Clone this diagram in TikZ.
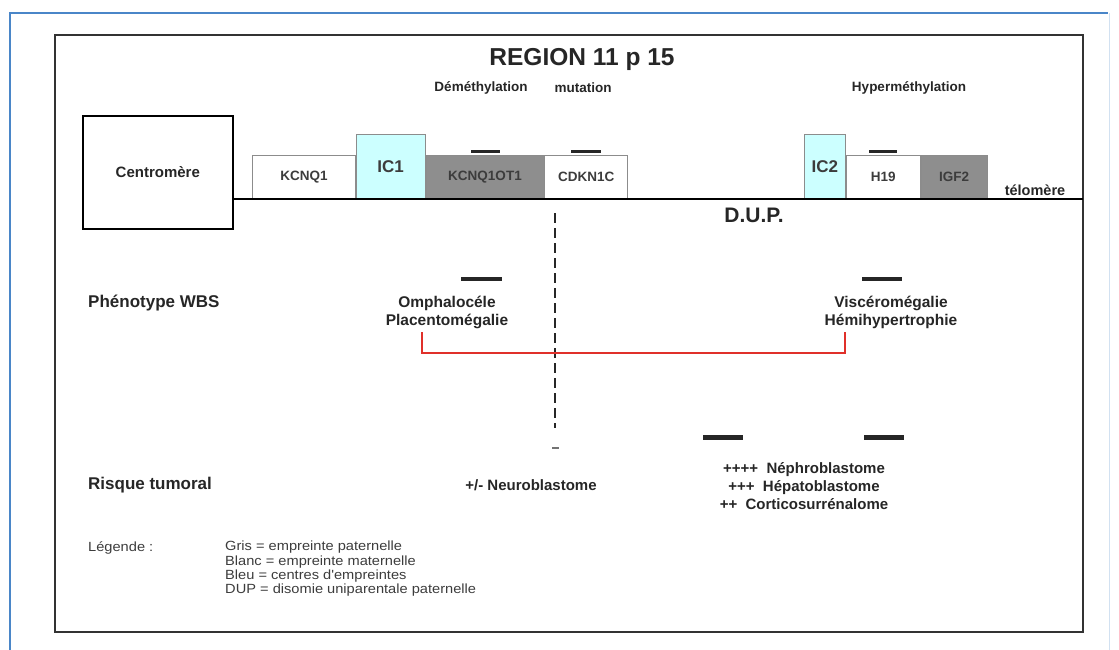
\documentclass[tikz,border=0pt]{standalone}
\usepackage{fontspec}
\setmainfont{Liberation Sans}
\newfontfamily\legfont[FakeStretch=1.1]{Liberation Sans}
\usetikzlibrary{positioning}
\definecolor{wbsblue}{HTML}{4A86C8}
\definecolor{wbscyan}{HTML}{CCFFFF}
\definecolor{wbsgrey}{HTML}{8E8E8E}
\definecolor{wbsred}{HTML}{E0302A}
\definecolor{wbsink}{HTML}{262626}
\tikzset{
  gene/.style={rectangle, draw=black!45, line width=0.8pt, fill=white, minimum height=43pt,
               inner sep=0pt, font=\fontsize{13.5}{15}\selectfont\bfseries, text=wbsink!90},
  genep/.style={gene, fill=wbsgrey},
  ic/.style={gene, fill=wbscyan, minimum height=64pt, font=\fontsize{17}{19}\selectfont\bfseries},
  mbar/.style={rectangle, fill=black!85, inner sep=0pt, minimum height=3pt},
  meth/.style={font=\fontsize{13.5}{15}\selectfont\bfseries, text=wbsink, inner sep=0pt},
  lbl/.style={font=\fontsize{15.5}{18}\selectfont\bfseries, text=wbsink, align=center, inner sep=0pt},
  rowlbl/.style={font=\fontsize{17}{19}\selectfont\bfseries, text=wbsink, anchor=west, inner sep=0pt},
  legtxt/.style={font=\legfont\fontsize{13.3}{14.3}\selectfont, text=wbsink!90, anchor=west, align=left, inner sep=0pt},
  redlink/.style={draw=wbsred, line width=2pt},
  chromo/.style={line width=2.6pt, draw=black},
}

\begin{document}
\begin{tikzpicture}[x=1pt, y=-1pt]
  \useasboundingbox (0,0) rectangle (1119,650);
  % frames
  \draw[wbsblue, line width=2pt] (10,660) -- (10,13) -- (1108,13);
  \draw[wbsblue!25, line width=1pt] (1109,13) -- (1109,660);
  \draw[black!80, line width=2pt] (55,35) rectangle (1083,632);

  \node[font=\fontsize{24.5}{26}\selectfont\bfseries, text=wbsink] (title) at (582,59) {REGION 11 p 15};

  % chromosome
  \node[draw, line width=1.6pt, minimum width=150pt, minimum height=113pt, anchor=north west,
        font=\fontsize{15}{17}\selectfont\bfseries, text=wbsink] (centro) at (82,115) {Centromère};
  \node[gene, minimum width=103pt, anchor=south west] (kcnq1) at (252,199) {KCNQ1};
  \node[ic, minimum width=69pt, anchor=south west] (ic1) at (kcnq1.south east) {IC1};
  \node[genep, minimum width=118pt, anchor=south west] (kcnq1ot1) at (ic1.south east) {KCNQ1OT1};
  \node[gene, minimum width=83pt, anchor=south west] (cdkn1c) at (kcnq1ot1.south east) {CDKN1C};
  \node[ic, minimum width=41pt, anchor=south west] (ic2) at (804,199) {IC2};
  \node[gene, minimum width=74pt, anchor=south west] (h19) at (ic2.south east) {H19};
  \node[genep, minimum width=66pt, anchor=south west] (igf2) at (h19.south east) {IGF2};
  \coordinate (qter) at (1083,199);
  \draw[chromo] (centro.east |- kcnq1.south) -- (qter);
  \node[font=\fontsize{14.5}{16}\selectfont\bfseries, text=wbsink] (telo) at (1035,190) {télomère};

  \node[mbar, minimum width=29pt, above=2pt of kcnq1ot1] (bar1) {};
  \node[mbar, minimum width=30pt, above=2pt of cdkn1c] (bar2) {};
  \node[mbar, minimum width=28pt, above=2pt of h19] (bar3) {};
  \node[meth] (demeth) at (481,88) {Déméthylation};
  \node[meth] (mut) at (583,88) {mutation};
  \node[meth] (hyper) at (909,88) {Hyperméthylation};

  \node[font=\fontsize{21}{23}\selectfont\bfseries, text=wbsink] (dup) at (754,215) {D.U.P.};
  \coordinate (cutA) at (555,213);
  \coordinate (cutB) at (555,428);
  \draw[black!85, line width=1.2pt, dash pattern=on 10pt off 5pt] (cutA) -- (cutB);
  \node[mbar, minimum width=7pt, minimum height=1.2pt, fill=black!55] (cutend) at (555,448) {};

  % phenotype
  \node[rowlbl] (pheno) at (88,303) {Phénotype WBS};
  \node[mbar, minimum width=41pt, minimum height=4pt] (bar4) at (481,279) {};
  \node[mbar, minimum width=40pt, minimum height=4pt] (bar5) at (882,279) {};
  \node[lbl] (omph) at (447,312) {Omphalocéle\\Placentomégalie};
  \node[lbl] (visc) at (891,312) {Viscéromégalie\\Hémihypertrophie};
  \coordinate (redL) at (422,332);
  \coordinate (redR) at (845,332);
  \draw[redlink] (redL) -- ++(0,21) -| (redR);

  % tumeurs
  \node[rowlbl] (risk) at (88,485) {Risque tumoral};
  \node[lbl, font=\fontsize{15}{18}\selectfont\bfseries] (neuro) at (531,485) {+/- Neuroblastome};
  \node[mbar, minimum width=40pt, minimum height=5pt] (bar6) at (723,437) {};
  \node[mbar, minimum width=40pt, minimum height=5pt] (bar7) at (884,437) {};
  \node[lbl, font=\fontsize{15}{18}\selectfont\bfseries] (tumors) at (804,486)
    {++++~~Néphroblastome\\+++~~Hépatoblastome\\++~~Corticosurrénalome};

  % legende
  \node[legtxt] (leg) at (88,548) {Légende :};
  \node[legtxt] (legitems) at (225,569) {Gris = empreinte paternelle\\Blanc = empreinte maternelle\\Bleu = centres d'empreintes\\DUP = disomie uniparentale paternelle};
\end{tikzpicture}
\end{document}
